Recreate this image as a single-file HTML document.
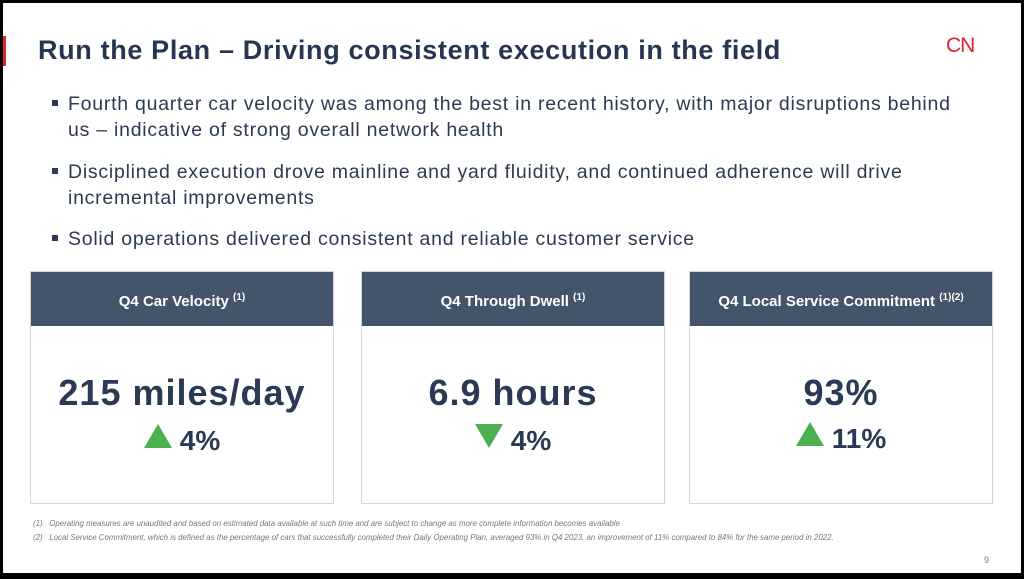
<!DOCTYPE html>
<html><head><meta charset="utf-8"><style>
body{margin:0;width:1024px;height:579px;background:#000;overflow:hidden;font-family:"Liberation Sans",sans-serif}
#slide{position:absolute;left:3px;top:3px;width:1018px;height:570px;background:#fff}
.abs{position:absolute}
.title{left:35px;top:32px;font-size:27px;font-weight:bold;color:#263650;letter-spacing:0.65px;white-space:nowrap}
.redbar{left:0;top:33px;width:3px;height:30px;background:#d8282f}
.b{left:65px;font-size:19.5px;color:#2c3a52;line-height:26px;width:900px;letter-spacing:0.75px}
.sq{left:49px;width:6px;height:6px;background:#2c3a52}
.card{border:1px solid #d4d4d4;background:#fff}
.hdr{background:#44546a;color:#fff;font-weight:bold;font-size:15px;text-align:center;line-height:52px;height:54px}
.hdr sup{font-size:10px;vertical-align:6px}
.val{font-size:36px;font-weight:bold;color:#2a3a55;text-align:center;width:100%;letter-spacing:1px}
.pct{font-size:28px;font-weight:bold;color:#2a3a55;text-align:center;width:100%}
.tri{display:inline-block;width:0;height:0;border-left:14px solid transparent;border-right:14px solid transparent;margin-right:8px;vertical-align:2px}
.up{border-bottom:24px solid #4caf50}
.dn{border-top:24px solid #4caf50}
.fn{left:30px;font-size:7.9px;font-style:italic;color:#777;white-space:nowrap}
</style></head><body>
<div id="slide">
<div class="abs redbar"></div>
<div class="abs title">Run the Plan – Driving consistent execution in the field</div>
<div class="abs" style="left:943px;top:31px;color:#d8282f;font-size:21px;letter-spacing:-1px">CN</div>
<div class="abs sq" style="top:97px"></div>
<div class="abs b" style="top:88px">Fourth quarter car velocity was among the best in recent history, with major disruptions behind us – indicative of strong overall network health</div>
<div class="abs sq" style="top:165px"></div>
<div class="abs b" style="top:156px">Disciplined execution drove mainline and yard fluidity, and continued adherence will drive incremental improvements</div>
<div class="abs sq" style="top:232px"></div>
<div class="abs b" style="top:223px">Solid operations delivered consistent and reliable customer service</div>

<div class="abs card" style="left:27px;top:268px;width:302px;height:231px">
<div class="hdr">Q4 Car Velocity <sup>(1)</sup></div>
<div class="abs val" style="top:100px">215 miles/day</div>
<div class="abs pct" style="top:152px"><span class="tri up"></span>4%</div>
</div>
<div class="abs card" style="left:358px;top:268px;width:302px;height:231px">
<div class="hdr">Q4 Through Dwell <sup>(1)</sup></div>
<div class="abs val" style="top:100px">6.9 hours</div>
<div class="abs pct" style="top:152px"><span class="tri dn"></span>4%</div>
</div>
<div class="abs card" style="left:686px;top:268px;width:302px;height:231px">
<div class="hdr">Q4 Local Service Commitment <sup>(1)(2)</sup></div>
<div class="abs val" style="top:100px">93%</div>
<div class="abs pct" style="top:150px"><span class="tri up"></span>11%</div>
</div>

<div class="abs fn" style="top:516px">(1)&nbsp;&nbsp; Operating measures are unaudited and based on estimated data available at such time and are subject to change as more complete information becomes available</div>
<div class="abs fn" style="top:530px">(2)&nbsp;&nbsp; Local Service Commitment, which is defined as the percentage of cars that successfully completed their Daily Operating Plan, averaged 93% in Q4 2023, an improvement of 11% compared to 84% for the same period in 2022.</div>
<div class="abs" style="left:981px;top:552px;font-size:9px;color:#777">9</div>
</div>
</body></html>
